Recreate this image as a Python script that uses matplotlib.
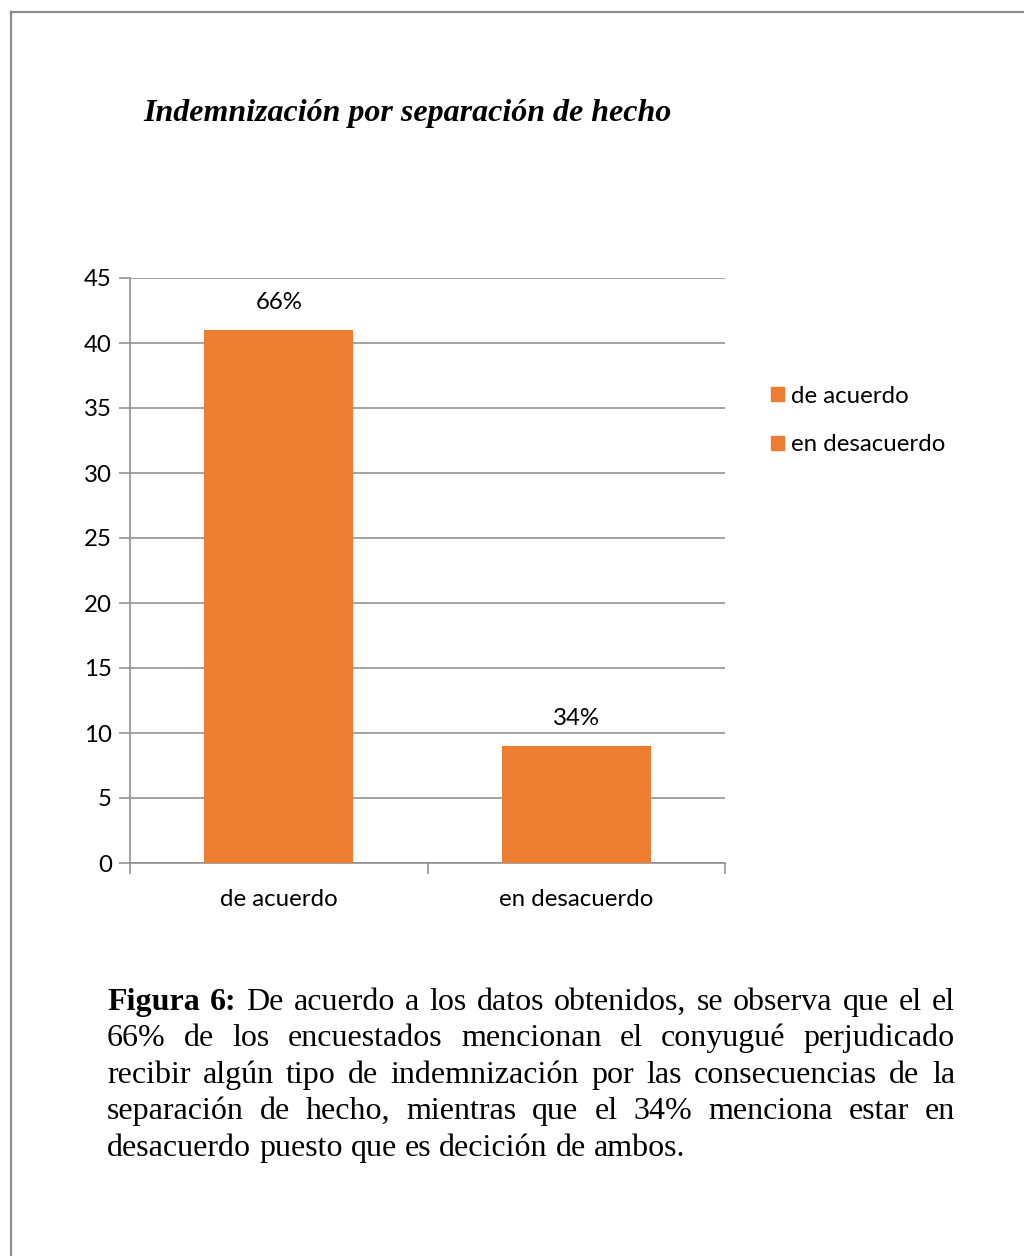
import matplotlib
matplotlib.use("Agg")
import matplotlib.pyplot as plt
from matplotlib.lines import Line2D
from matplotlib.patches import Patch
from matplotlib.transforms import IdentityTransform

# ---------------------------------------------------------------------------
# Data
# ---------------------------------------------------------------------------
categories = ["de acuerdo", "en desacuerdo"]
counts = [41, 9]
pct_labels = ["66%", "34%"]
y_ticks = [0, 5, 10, 15, 20, 25, 30, 35, 40, 45]

title = "Indemnización por separación de hecho"
caption_lines = [
    [("Figura", "bold"), ("6:", "bold"), ("De", None), ("acuerdo", None), ("a", None),
     ("los", None), ("datos", None), ("obtenidos,", None), ("se", None), ("observa", None),
     ("que", None), ("el", None), ("el", None)],
    "66% de los encuestados mencionan el conyugué perjudicado",
    "recibir algún tipo de indemnización por las consecuencias de la",
    "separación de hecho, mientras que el 34% menciona estar en",
    "desacuerdo puesto que es decición de ambos.",
]

ORANGE = "#ED7D31"
GRID = "#8a8a8a"
SANS = ["Lato", "DejaVu Sans"]
SERIF = ["Liberation Serif", "DejaVu Serif"]
TICK_SIZE = 17.3

W, H, DPI = 1024, 1256, 100
fig = plt.figure(figsize=(W / DPI, H / DPI), dpi=DPI)
fig.patch.set_facecolor("white")

# page border (top and left edges only)
fig.add_artist(Line2D([11, W], [H - 12, H - 12], transform=IdentityTransform(),
                      color="#8c8c8c", linewidth=1.6))
fig.add_artist(Line2D([11, 11], [0, H - 12], transform=IdentityTransform(),
                      color="#8c8c8c", linewidth=1.6))

# title
fig.text(143, H - 113, title, transform=IdentityTransform(), family=SERIF,
         fontsize=23, fontweight="bold", fontstyle="italic", va="center", ha="left")

# ---------------------------------------------------------------------------
# Bar chart
# ---------------------------------------------------------------------------
ax = fig.add_axes([130 / W, 1 - 863 / H, (725 - 130) / W, (863 - 278) / H])
x = list(range(len(categories)))
bars = ax.bar(x, counts, width=0.5, color=ORANGE, zorder=3)

ax.set_xlim(-0.5, len(categories) - 0.5)
ax.set_ylim(0, 45)
ax.set_yticks(y_ticks)
ax.set_yticklabels([str(v) for v in y_ticks], family=SANS, fontsize=TICK_SIZE)
ax.yaxis.grid(True, color=GRID, linewidth=1.1, zorder=0)
ax.tick_params(axis="y", length=8, width=1.1, color=GRID, pad=5)

# category boundaries as major ticks, names as minor tick labels
ax.set_xticks([i - 0.5 for i in range(len(categories) + 1)])
ax.set_xticklabels([])
ax.set_xticks(x, minor=True)
ax.set_xticklabels(categories, minor=True, family=SANS, fontsize=TICK_SIZE)
ax.tick_params(axis="x", which="major", length=8, width=1.1, color=GRID)
ax.tick_params(axis="x", which="minor", length=0, pad=18.5)

for side in ("top", "right"):
    ax.spines[side].set_visible(False)
for side in ("left", "bottom"):
    ax.spines[side].set_color(GRID)
    ax.spines[side].set_linewidth(1.1)

for rect, lab in zip(bars, pct_labels):
    ax.annotate(lab, (rect.get_x() + rect.get_width() / 2, rect.get_height()),
                xytext=(0, 20), textcoords="offset points", ha="center", va="center",
                family=SANS, fontsize=TICK_SIZE)

handles = [Patch(color=ORANGE, label=c) for c in categories]
fig.legend(handles=handles, loc="upper left", bbox_to_anchor=(749 / W, 1 - 364 / H),
           frameon=False, prop={"family": SANS, "size": TICK_SIZE},
           handlelength=0.55, handleheight=0.55, handletextpad=0.3, labelspacing=1.15)

# ---------------------------------------------------------------------------
# Justified caption
# ---------------------------------------------------------------------------
renderer = fig.canvas.get_renderer()
left, right = 107, 955
baseline0, line_step = 1010, 36.4
cap_size = 23


def word_width(word, weight):
    t = fig.text(0, 0, word, transform=IdentityTransform(), family=SERIF,
                 fontsize=cap_size, fontweight=weight or "normal")
    w = t.get_window_extent(renderer).width
    t.remove()
    return w


for i, line in enumerate(caption_lines):
    words = line if isinstance(line, list) else [(w, None) for w in line.split()]
    widths = [word_width(w, wt) for w, wt in words]
    last = i == len(caption_lines) - 1
    if last:
        gap = word_width("a b", None) - word_width("ab", None)
    else:
        gap = (right - left - sum(widths)) / (len(words) - 1)
    xpos = left
    y = H - (baseline0 + i * line_step)
    for (w, wt), wd in zip(words, widths):
        fig.text(xpos, y, w, transform=IdentityTransform(), family=SERIF,
                 fontsize=cap_size, fontweight=wt or "normal", va="baseline")
        xpos += wd + gap

fig.savefig("out.png", dpi=DPI)
